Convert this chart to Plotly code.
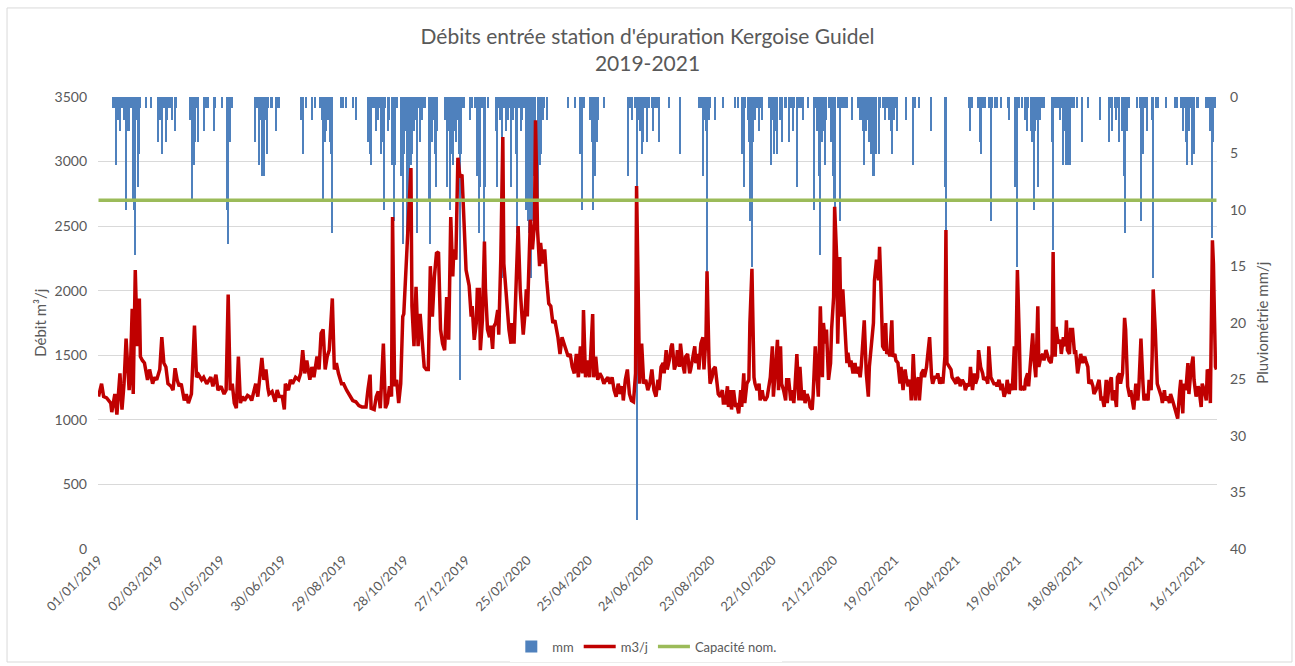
import pandas as pd
import plotly.graph_objects as go

# ---------------- data ----------------
start_date = "2019-01-01"
capacity_nom = 2700

# Flow (m3/j): day offset from 2019-01-01 and value
flow_days = [
 0,3,5,8,12,13,16,18,21,23,25,27,30,31,33,34,36,38,40,41,43,45,48,50,53,55,57,60,62,64,66,68,71,73,75,77,79,81,84,86,88,91,94,96,98,101,103,106,110,112,115,117,120,123,125,127,129,131,133,135,137,139,141,143,146,148,150,152,154,156,158,160,162,164,166,167,170,173,175,177,
 180,182,183,186,188,190,193,196,198,200,202,204,207,209,211,214,216,218,220,222,224,226,229,231,233,235,238,240,243,245,249,252,255,258,262,264,266,267,270,272,274,276,279,281,283,285,287,288,290,292,294,296,298,299,301,303,306,307,309,311,313,315,317,319,321,323,325,327,329,331,333,335,337,339,341,343,345,347,348,350,352,354,356,358,360,
 363,365,366,368,370,371,373,374,376,378,379,381,383,384,386,387,389,391,392,394,396,397,398,400,401,402,404,405,407,409,411,413,414,416,418,419,420,422,423,425,427,428,430,432,433,435,437,439,441,443,445,447,449,450,452,454,456,458,460,462,464,466,468,470,472,474,475,477,479,481,482,484,485,487,489,491,493,495,497,499,501,503,505,507,509,511,513,514,516,518,520,522,524,526,527,529,530,532,534,536,538,540,542,544,
 546,548,549,551,553,554,556,557,559,561,562,564,566,567,569,570,572,574,575,577,579,580,582,584,585,587,588,590,592,593,595,596,598,599,601,602,604,606,607,609,611,612,614,616,617,619,620,622,624,625,627,629,630,632,633,635,637,638,640,642,643,645,647,648,650,651,653,655,656,658,660,661,663,665,666,668,669,671,673,674,676,678,679,681,682,684,686,687,689,691,692,694,696,697,699,700,702,704,705,707,709,710,712,713,715,717,718,720,721,723,724,726,727,
 729,731,732,733,734,736,737,739,741,742,744,746,747,749,750,752,754,755,757,759,760,762,764,765,766,767,768,770,771,772,774,775,777,778,780,781,783,785,786,788,790,791,793,795,796,797,798,800,801,803,804,806,808,809,811,812,814,816,817,819,821,822,824,826,827,829,830,831,833,835,836,838,840,841,843,844,846,848,849,851,853,854,856,858,859,861,862,864,866,867,869,871,872,874,875,877,879,880,882,884,885,887,889,890,892,893,895,897,898,900,902,903,905,907,908,910,911,913,915,
 916,918,919,920,921,923,925,926,928,930,931,933,934,935,936,937,938,940,942,943,945,947,948,949,951,952,954,956,957,959,961,962,964,966,967,969,970,972,974,975,977,979,980,982,983,985,987,988,990,992,993,995,997,998,1000,1001,1003,1005,1006,1008,1010,1011,1013,1014,1016,1018,1019,1021,1023,1024,1026,1028,1029,1031,1032,1033,1035,1036,1037,1039,1041,1042,1044,1045,1047,1049,1050,1052,1054,1055,1057,1059,1060,1062,1063,1065,1067,1068,1070,1072,1073,1075,1077,1078,1080,1081,1083,1085,1086,1088,1089,1091,1092,1093,1094,1095,
]
flow_m3 = [
 1180,1280,1180,1170,1130,1060,1200,1040,1360,1080,1280,1630,1230,1330,1860,1200,2160,1570,1940,1490,1460,1440,1310,1390,1280,1330,1310,1390,1640,1440,1410,1280,1260,1230,1400,1310,1260,1280,1150,1200,1130,1200,1730,1330,1350,1310,1330,1280,1330,1260,1350,1230,1260,1200,1230,1970,1230,1280,1130,1090,1490,1130,1180,1150,1190,1180,1150,1230,1280,1180,1370,1480,1310,1390,1240,1200,1220,1140,1230,1180,
 1180,1080,1280,1230,1310,1280,1330,1310,1360,1540,1360,1460,1310,1410,1330,1490,1390,1670,1700,1390,1490,1540,1940,1390,1440,1360,1280,1280,1230,1200,1150,1140,1110,1100,1100,1240,1350,1090,1080,1180,1220,1090,1590,1090,1130,1260,1180,2570,1260,1310,1130,1280,1800,1820,2150,2420,2950,1880,1570,2030,1570,1820,1590,1410,1390,1390,2190,1800,2110,2290,2300,1700,1590,1540,1950,1620,2570,2110,2320,2240,3030,2880,2900,2570,2160,
 2040,1800,1880,1620,1750,2010,2010,1540,1770,2380,2010,1700,1640,1730,1550,1720,1750,1850,1660,2240,3190,2210,2110,1900,1750,1700,1590,1750,1590,2060,2500,2010,1900,1660,1850,2010,1800,2420,2550,2320,2520,3320,2470,2190,2370,2210,2320,2080,1900,1880,1750,1770,1700,1640,1510,1640,1590,1540,1490,1510,1410,1360,1510,1330,1570,1360,1850,1330,1460,1330,1490,1820,1330,1490,1310,1360,1330,1280,1310,1330,1280,1330,1230,1180,1280,1200,1260,1150,1310,1390,1200,1150,1140,1360,2810,1490,1280,1590,1280,1310,1230,1280,1390,1230,
 1180,1310,1230,1410,1440,1360,1540,1390,1460,1570,1590,1390,1440,1540,1410,1590,1440,1360,1490,1510,1360,1390,1490,1570,1440,1510,1390,1590,1640,1390,1640,2150,1440,1280,1330,1390,1410,1230,1200,1180,1230,1130,1130,1260,1100,1230,1080,1230,1100,1130,1050,1230,1100,1360,1130,1280,1310,1750,2170,1330,1280,1230,1280,1150,1230,1180,1150,1180,1230,1330,1570,1180,1390,1620,1230,1570,1280,1230,1150,1310,1310,1150,1230,1130,1230,1510,1150,1410,1150,1230,1130,1200,1150,1100,1080,1200,1570,1330,1180,1880,1330,1750,1590,1700,1310,1440,1700,1950,2650,2260,1590,2260,1800,
 2010,1720,1520,1440,1520,1410,1460,1360,1440,1360,1410,1330,1410,1700,1770,1360,1180,1410,1620,1750,2080,2240,2080,2340,2110,1880,1570,1540,1750,1510,1540,1490,1770,1490,1510,1460,1440,1280,1410,1230,1390,1330,1260,1310,1150,1280,1510,1150,1280,1330,1150,1360,1390,1330,1410,1490,1640,1330,1280,1330,1330,1360,1280,1330,1280,1490,2470,1440,1410,1390,1330,1310,1280,1330,1310,1260,1310,1280,1230,1280,1260,1410,1230,1360,1280,1330,1540,1410,1360,1310,1330,1280,1570,1330,1310,1280,1280,1260,1310,1230,1280,1180,1230,1310,1200,1280,1230,1570,1230,2160,1590,1230,1260,1230,1310,1360,1260,1460,1670,
 1490,1330,1590,1880,1410,1490,1510,1460,1540,1490,1460,1440,1510,2300,1540,1490,1720,1590,1620,1510,1640,1570,1770,1540,1510,1700,1700,1510,1540,1360,1490,1510,1440,1490,1460,1410,1280,1310,1260,1200,1230,1280,1310,1150,1180,1100,1310,1130,1280,1330,1150,1230,1100,1330,1360,1280,1360,1790,1700,1260,1180,1230,1130,1080,1280,1150,1260,1630,1280,1150,1200,1150,1310,1230,1500,2010,1700,1360,1280,1230,1180,1130,1230,1150,1180,1130,1200,1150,1100,1080,1010,1230,1310,1050,1280,1230,1440,1200,1390,1490,1310,1180,1260,1230,1100,1280,1230,1150,1390,1360,1130,2390,2210,1800,1410,1390,
]

# Rainfall (mm/j): day offset from 2019-01-01 and value
rain_days = [
 14,15,17,18,19,21,22,23,24,25,26,27,29,30,31,32,34,35,36,38,39,40,41,47,51,58,60,61,62,64,66,67,69,70,72,75,76,90,91,92,94,95,96,97,103,105,107,113,114,121,126,127,128,129,131,153,155,157,158,160,162,163,165,166,169,170,174,175,177,
 198,200,203,209,212,217,219,220,222,223,225,227,228,229,238,239,242,249,252,264,266,267,268,270,271,272,274,275,277,278,280,281,284,285,287,288,289,290,292,296,298,299,301,302,304,306,307,309,311,312,314,315,317,319,320,324,325,327,329,330,331,332,339,341,342,344,345,347,348,350,351,353,354,355,356,358,366,
 364,369,370,371,373,374,376,378,379,381,389,390,392,393,395,397,399,401,402,404,405,406,408,409,410,412,414,415,417,419,420,421,422,424,425,427,428,430,432,433,435,436,439,460,467,472,474,476,481,483,484,486,488,489,495,519,521,523,525,527,529,530,532,533,535,537,539,542,543,545,
 547,549,559,570,588,590,592,593,595,596,598,599,604,612,623,626,630,632,633,636,637,638,640,641,643,645,647,649,650,657,659,660,662,664,665,667,669,672,673,676,678,680,681,684,686,688,690,695,701,703,704,706,707,709,710,712,713,715,717,719,720,721,724,726,727,
 729,730,731,733,738,744,746,747,749,750,752,754,755,757,759,760,762,764,765,768,770,772,774,776,777,779,780,782,791,798,800,804,815,829,830,853,854,856,861,863,864,866,868,872,874,875,878,880,884,891,892,898,900,902,905,907,909,910,913,914,915,916,
 917,919,920,922,924,926,934,935,937,938,940,942,943,945,947,948,950,952,953,955,958,963,969,981,990,991,993,996,997,999,1000,1002,1004,1005,1007,1009,1017,1020,1021,1023,1025,1027,1032,1033,1036,1038,1046,1054,1056,1060,1062,1063,1065,1066,1068,1070,1071,1073,1076,1077,1085,1087,1089,1091,1092,1094,
]
rain_mm = [
 1,1,6,2,2,3,1,1,1,2,2,10,3,3,1,1,9,10,14,2,8,5,1,1,1,4,2,2,5,1,4,2,1,1,2,3,1,2,2,9,6,4,1,4,3,1,1,3,1,1,10,13,4,4,1,4,1,6,2,7,7,2,5,1,1,1,3,1,1,
 2,5,1,2,1,1,2,9,4,3,2,4,5,12,1,1,1,1,2,4,5,6,1,1,1,3,2,1,5,4,10,1,3,2,6,6,11,6,1,7,13,5,3,12,9,6,5,3,2,12,1,4,2,1,1,9,13,4,2,5,8,3,2,8,3,10,5,6,3,4,2,5,25,5,1,1,1,
 2,1,1,7,12,8,1,13,8,1,3,8,1,2,16,1,3,2,1,8,1,2,1,5,12,1,3,2,1,10,8,11,12,16,11,7,4,9,6,5,2,1,2,1,1,5,10,1,2,4,10,7,4,2,1,7,1,2,1,37.4,2,3,5,4,1,4,1,1,3,1,
 1,4,1,5,1,1,7,2,3,15.5,2,1,2,1,1,1,5,8,1,2,4,11,15,4,2,1,3,1,2,1,6,2,5,3,5,2,4,1,1,4,1,3,1,8,1,1,2,1,10,1,3,7,14,4,3,6,2,1,4,7,9,10,1,11,1,
 1,1,1,1,2,1,2,2,3,6,3,2,4,5,7,7,5,5,1,1,2,1,2,3,5,2,1,3,2,6,1,1,3,8,12,1,3,1,1,4,5,1,1,1,11,1,1,1,1,1,2,8,15,1,1,2,3,1,3,4,4,10,
 3,2,8,2,1,1,4,13.5,1,1,1,2,1,6,3,6,6,6,1,1,1,4,1,2,4,1,3,1,2,1,4,3,7,12,3,1,1,1,11,5,1,3,2,16,1,1,1,1,1,1,3,1,4,6,3,1,6,5,1,1,1,1,3,12.5,4,1,
]

tick_labels = ["01/01/2019", "02/03/2019", "01/05/2019", "30/06/2019", "29/08/2019",
               "28/10/2019", "27/12/2019", "25/02/2020", "25/04/2020", "24/06/2020",
               "23/08/2020", "22/10/2020", "21/12/2020", "19/02/2021", "20/04/2021",
               "19/06/2021", "18/08/2021", "17/10/2021", "16/12/2021"]

title_text = "Débits entrée station d'épuration Kergoise Guidel<br>2019-2021"
series_names = ["mm", "m3/j", "Capacité nom."]

# ---------------- build ----------------
t0 = pd.Timestamp(start_date)
flow_x = [t0 + pd.Timedelta(days=d) for d in flow_days]
rain_x = [t0 + pd.Timedelta(days=d) for d in rain_days]
tickvals = [pd.to_datetime(s, format="%d/%m/%Y") for s in tick_labels]
x_start = t0 - pd.Timedelta(hours=12)
x_end = t0 + pd.Timedelta(days=1095, hours=12)

FONT = "Lato, Open Sans, sans-serif"
GRAY = "#595959"

fig = go.Figure()
fig.add_trace(go.Bar(
    x=rain_x, y=rain_mm, name=series_names[0], yaxis="y",
    marker=dict(color="#4f81bd", line=dict(width=0)),
    width=86400000,
))
fig.add_trace(go.Scatter(
    x=flow_x, y=flow_m3, name=series_names[1], yaxis="y2", mode="lines",
    line=dict(color="#c00000", width=3.5),
))
fig.add_trace(go.Scatter(
    x=[t0, t0 + pd.Timedelta(days=1095)], y=[capacity_nom, capacity_nom],
    name=series_names[2], yaxis="y2", mode="lines",
    line=dict(color="#9bbb59", width=3.5),
))

fig.update_layout(
    width=1295, height=666,
    margin=dict(l=98, r=78, t=97, b=117, autoexpand=False),
    paper_bgcolor="white", plot_bgcolor="white",
    font=dict(family=FONT, color=GRAY, size=13),
    bargap=0,
    showlegend=True,
    title=dict(text=title_text, x=0.5, xanchor="center", y=0.934, yanchor="middle",
               font=dict(family=FONT, size=21, color=GRAY)),
    legend=dict(orientation="h", x=0.49, xanchor="center", y=-0.216, yanchor="middle",
                font=dict(family=FONT, size=13, color=GRAY), traceorder="normal",
                itemwidth=32),
    xaxis=dict(type="date", range=[x_start, x_end], tickmode="array",
               tickvals=tickvals, ticktext=tick_labels, tickangle=-45,
               showgrid=False, showline=False, zeroline=False, ticks="",
               automargin=False,
               tickfont=dict(family=FONT, size=13, color=GRAY)),
    yaxis=dict(side="right", range=[40, 0], tickmode="array",
               tickvals=list(range(0, 45, 5)), showgrid=False, zeroline=False,
               showline=False, ticks="", ticklabelstandoff=12, automargin=False,
               tickfont=dict(family=FONT, size=14, color=GRAY)),
    yaxis2=dict(side="left", overlaying="y", range=[0, 3500], tickmode="array",
                tickvals=list(range(0, 3501, 500)), showgrid=True,
                gridcolor="#d9d9d9", gridwidth=1, zeroline=False, showline=False,
                ticks="", ticklabelstandoff=10, automargin=False,
                tickfont=dict(family=FONT, size=14, color=GRAY)),
    annotations=[
        dict(text="Débit m³/j", xref="paper", yref="paper", x=-0.052, y=0.5,
             textangle=-90, showarrow=False, xanchor="center", yanchor="middle",
             font=dict(family=FONT, size=15, color=GRAY)),
        dict(text="Pluviométrie mm/j", xref="paper", yref="paper", x=1.04, y=0.5,
             textangle=-90, showarrow=False, xanchor="center", yanchor="middle",
             font=dict(family=FONT, size=15, color=GRAY)),
    ],
    shapes=[dict(type="rect", xref="paper", yref="paper",
                 x0=-0.0813, x1=1.067, y0=-0.25, y1=1.197,
                 line=dict(color="#d9d9d9", width=1), fillcolor="rgba(0,0,0,0)",
                 layer="below")],
)

fig.write_html("out.html", config={"displayModeBar": False},
               post_script="document.body.style.margin='0px';")
